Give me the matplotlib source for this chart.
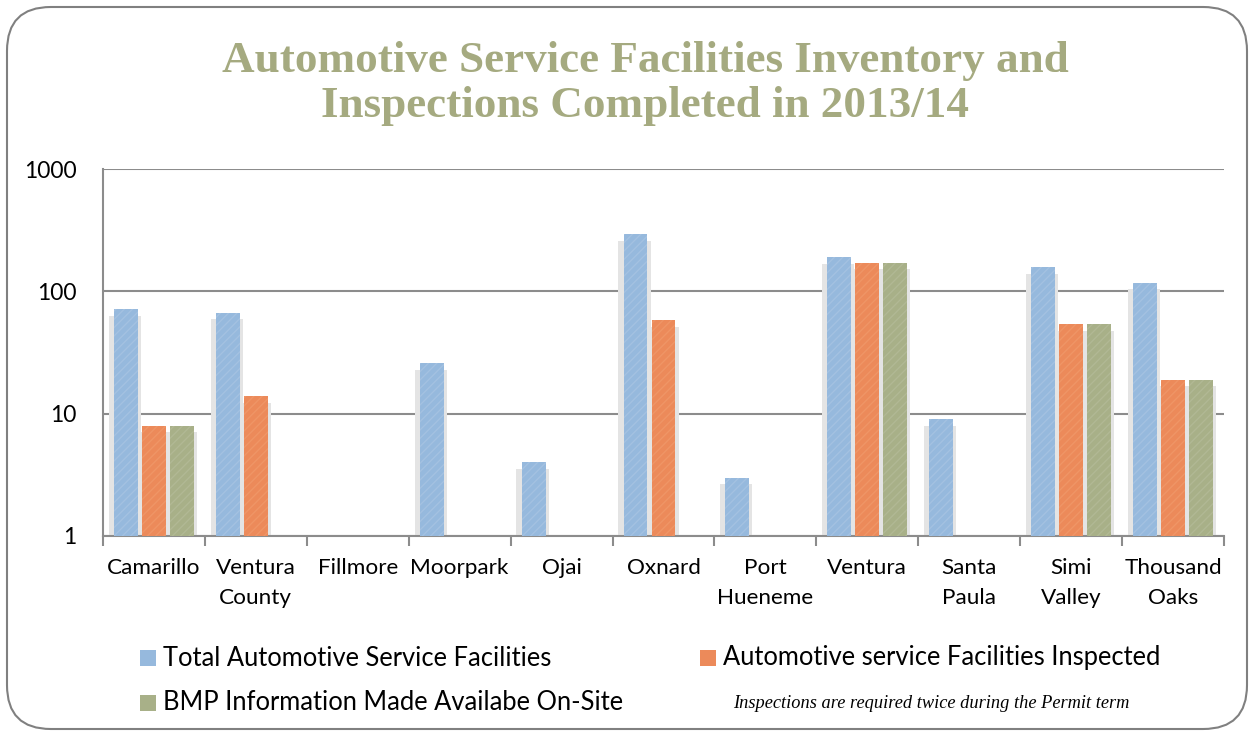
import matplotlib
matplotlib.use("Agg")
import matplotlib.pyplot as plt
import numpy as np
from matplotlib.patches import FancyBboxPatch, Rectangle

# data
cities = ["Camarillo", "Ventura\nCounty", "Fillmore", "Moorpark", "Ojai", "Oxnard",
          "Port\nHueneme", "Ventura", "Santa\nPaula", "Simi\nValley", "Thousand\nOaks"]
total_fac = [72, 67, 0, 26, 4, 292, 3, 190, 9, 157, 118]
inspected = [8, 14, 0, 0, 0, 58, 0, 172, 0, 54, 19]
bmp_info = [8, 0, 0, 0, 0, 0, 0, 172, 0, 54, 19]
series_names = ["Total Automotive Service Facilities",
                "Automotive service Facilities Inspected",
                "BMP Information Made Availabe On-Site"]
colors = ["#96B9DD", "#EC8A5A", "#A8B088"]
hatch_cols = ["#A3C1E1", "#EF9566", "#B1B894"]

fig = plt.figure(figsize=(12.53, 7.36), dpi=100)

# rounded frame round the whole chart
frame = FancyBboxPatch((7 / 1253, 7 / 736), 1240 / 1253, 722 / 736,
                       boxstyle="round,pad=0,rounding_size=0.035",
                       transform=fig.transFigure, facecolor="none",
                       edgecolor="#808080", linewidth=1.5, mutation_aspect=1253 / 736,
                       zorder=-1)
fig.patches.append(frame)

fig.text(0.515, 0.917, "Automotive Service Facilities Inventory and",
         ha="center", va="center", fontsize=32.5, fontweight="bold",
         family="Liberation Serif", color="#A5AA80")
fig.text(0.515, 0.856, "Inspections Completed in 2013/14",
         ha="center", va="center", fontsize=32.5, fontweight="bold",
         family="Liberation Serif", color="#A5AA80")

ax = fig.add_axes([103 / 1253, 200 / 736, 1121 / 1253, 367 / 736])
ax.set_yscale("log")
ax.set_ylim(1, 1000)
ax.set_xlim(-0.5, len(cities) - 0.5)

x = np.arange(len(cities))
bw = 0.235
step = 0.275
all_series = [total_fac, inspected, bmp_info]
for i, vals in enumerate(all_series):
    vals = np.array(vals, dtype=float)
    pos = x + (i - 1) * step
    mask = vals > 0
    # soft shadow behind bars
    ax.bar(pos[mask] - 0.01, vals[mask] * 0.88, width=bw + 0.08, color="#E4E4E4",
           linewidth=0, zorder=2)
    ax.bar(pos[mask], vals[mask], width=bw, color=colors[i], edgecolor=hatch_cols[i],
           hatch="////", linewidth=0, zorder=3, label=series_names[i])

ax.yaxis.grid(True, color="#8C8C8C", linewidth=1.5, zorder=1)
ax.set_axisbelow(True)
ax.set_yticks([1, 10, 100, 1000])
ax.set_yticklabels(["1", "10", "100", "1000"])
ax.yaxis.set_minor_locator(matplotlib.ticker.NullLocator())
ax.tick_params(axis="y", length=0, pad=19, labelsize=16.5)
for lab in ax.get_yticklabels():
    lab.set_family("Lato")

ax.set_xticks(x)
ax.set_xticklabels(cities, family="Lato", fontsize=16.2, linespacing=1.62, va="top")
ax.tick_params(axis="x", length=0, pad=16)
ax.set_xticks(np.arange(-0.5, len(cities) + 0.5, 1), minor=True)
ax.tick_params(axis="x", which="minor", length=7, color="#8C8C8C", width=1.5)

for s in ["top", "right"]:
    ax.spines[s].set_visible(False)
for s in ["left", "bottom"]:
    ax.spines[s].set_color("#8C8C8C")
    ax.spines[s].set_linewidth(1.5)

# legend laid out in two columns
leg_pos = [(140, 658), (700, 658), (140, 703)]
for i, name in enumerate(series_names):
    lx, ly = leg_pos[i]
    fig.patches.append(Rectangle((lx / 1253, (736 - ly - 8) / 736), 16 / 1253, 16 / 736,
                                 transform=fig.transFigure, facecolor=colors[i],
                                 edgecolor="none"))
    fig.text((lx + 23) / 1253, (736 - ly) / 736, name, ha="left", va="center",
             family="Lato", fontsize=18.4, color="black")

fig.text(931 / 1253, (736 - 703) / 736, "Inspections are required twice during the Permit term",
         ha="center", va="center", family="Liberation Serif", style="italic",
         fontsize=13.2, color="black")

fig.savefig("out.png", dpi=100)
